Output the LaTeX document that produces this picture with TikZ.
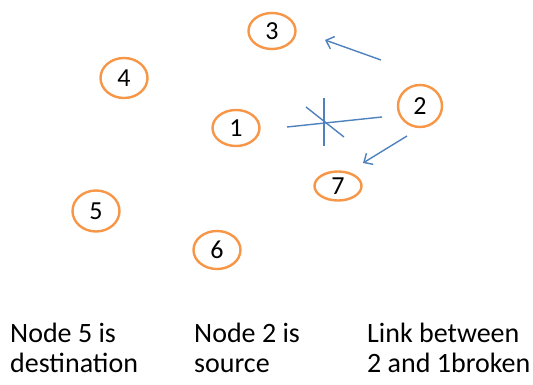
\documentclass[tikz,border=0pt]{standalone}
\usepackage{fontspec}
\setmainfont{Carlito}
\usetikzlibrary{shapes.geometric,arrows.meta}
\definecolor{nodeorange}{RGB}{247,150,70}
\definecolor{linkblue}{RGB}{79,129,189}
\begin{document}
\begin{tikzpicture}[x=1pt,y=-1pt]
    \tikzset{netnode/.style={ellipse,draw=nodeorange,line width=2.4pt,inner sep=0pt,minimum width=47,minimum height=36,font=\fontsize{26}{28}\selectfont},
             link/.style={draw=linkblue,line width=1.4pt},
             arrowlink/.style={link,-{Straight Barb[length=7pt,width=13pt]}},
             caption/.style={anchor=base west,align=left,inner sep=0pt,font=\fontsize{28}{30}\selectfont}};
    \useasboundingbox (0,0) rectangle (533,385);
    % network nodes
    \node[netnode] (n3) at (272,31) {3};
    \node[netnode,minimum height=40] (n4) at (124,78) {4};
    \node[netnode] (n1) at (236,128) {1};
    \node[netnode,minimum width=44,minimum height=42] (n2) at (420,106) {2};
    \node[netnode,minimum height=29] (n7) at (338,186) {7};
    \node[netnode,minimum height=41] (n5) at (96,211) {5};
    \node[netnode,minimum height=38] (n6) at (217,250) {6};
    % link ends
    \coordinate (a2) at (381,60);  \coordinate (a3) at (325,40);
    \coordinate (b2) at (407,136); \coordinate (b7) at (363,163);
    \coordinate (c1) at (287,127); \coordinate (c2) at (382,117);
    \coordinate (xt) at (324,98);  \coordinate (xb) at (324,146);
    \coordinate (yt) at (306,107); \coordinate (yb) at (344,137);
    \draw[arrowlink] (a2) -- (a3);
    \draw[arrowlink] (b2) -- (b7);
    \draw[link] (c1) -- (c2);
    % broken mark
    \draw[link] (xt) -- (xb);
    \draw[link] (yt) -- (yb);
    % captions
    \node[caption] (t1) at (10,372) {Node 5 is\\destination};
    \node[caption] (t2) at (194,372) {Node 2 is\\source};
    \node[caption] (t3) at (367,372) {Link between\\2 and 1broken};
\end{tikzpicture}
\end{document}
